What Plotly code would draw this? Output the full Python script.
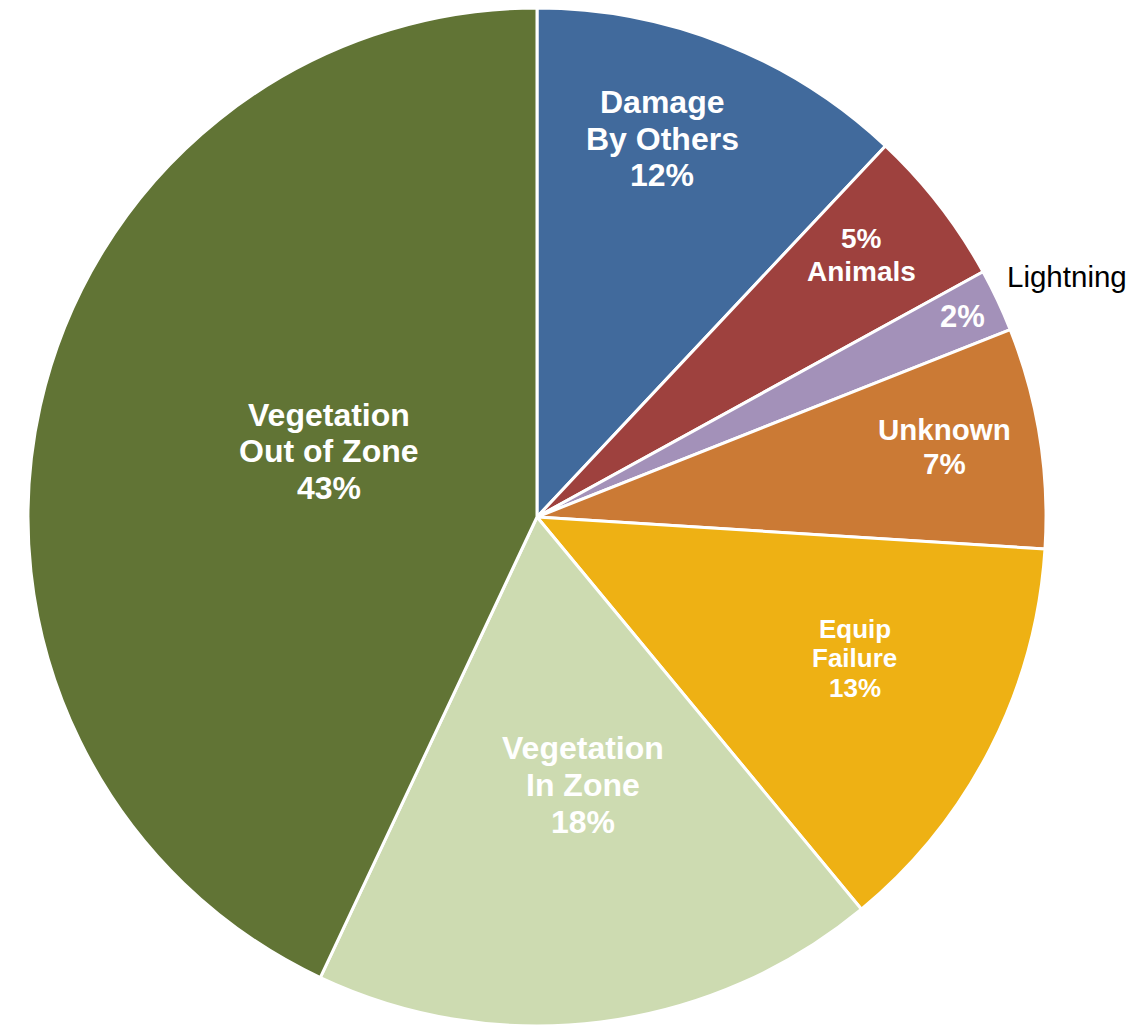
import math
import plotly.graph_objects as go

# ---- data ----
categories = ["Damage By Others", "Animals", "Lightning", "Unknown",
              "Equip Failure", "Vegetation In Zone", "Vegetation Out of Zone"]
values = [12, 5, 2, 7, 13, 18, 43]
label_texts = ["Damage<br>By Others<br>12%", "5%<br>Animals", "2%",
               "Unknown<br>7%", "Equip<br>Failure<br>13%",
               "Vegetation<br>In Zone<br>18%", "Vegetation<br>Out of Zone<br>43%"]
outside_label = "Lightning"

# ---- styles ----
colors = ["#416A9C", "#9E413E", "#A391B9", "#CB7A35", "#EEB114", "#CDDBB1", "#617435"]
font_sizes = [32, 28, 31, 29.5, 26, 32, 32]
radial_frac = [0.783, 0.82, 0.924, 0.812, 0.683, 0.534, 0.429]
angle_offset = [-3.3, -1.1, 0.0, -0.8, -3.0, -2.5, 4.9]

W, H = 1143, 1025
R = 509
cx = 529
cy = R

fig = go.Figure(go.Pie(
    labels=categories, values=values, sort=False, direction="clockwise",
    rotation=0, textinfo="none", hoverinfo="label+percent",
    marker=dict(colors=colors, line=dict(color="white", width=3)),
    domain=dict(x=[(cx - R) / W, (cx + R) / W], y=[1 - (cy + R) / H, 1]),
    showlegend=False,
))

total = sum(values)
cum = 0
annotations = []
for i, v in enumerate(values):
    mid = (cum + v / 2) / total * 360 + angle_offset[i]
    cum += v
    r = radial_frac[i] * R
    px = cx + r * math.sin(math.radians(mid))
    py = cy - r * math.cos(math.radians(mid))
    lines = label_texts[i].split("<br>")
    lh = font_sizes[i] * 1.15
    n = len(lines)
    for j, ln in enumerate(lines):
        dy = ((n - 1) / 2 - j) * lh
        annotations.append(dict(
            x=px / W, y=1 - py / H, xref="paper", yref="paper", text=ln,
            showarrow=False, yshift=dy,
            font=dict(family="Liberation Sans, Arial, sans-serif", size=font_sizes[i],
                      color="white", weight="bold"),
            xanchor="center", yanchor="middle"))

# Lightning outside label, placed just beyond the slice edge
li = categories.index("Lightning")
mid_l = (sum(values[:li]) + values[li] / 2) / total * 360 - 2
rl = R * 1.033
annotations.append(dict(
    x=(cx + rl * math.sin(math.radians(mid_l))) / W,
    y=1 - (cy - rl * math.cos(math.radians(mid_l))) / H,
    xref="paper", yref="paper", text=outside_label, showarrow=False,
    font=dict(family="Liberation Sans, Arial, sans-serif", size=29.5, color="black"),
    xanchor="left", yanchor="middle"))

fig.update_layout(
    width=W, height=H, autosize=False,
    margin=dict(l=0, r=0, t=0, b=0),
    paper_bgcolor="white", plot_bgcolor="white",
    annotations=annotations,
)

fig.write_html("out.html")
